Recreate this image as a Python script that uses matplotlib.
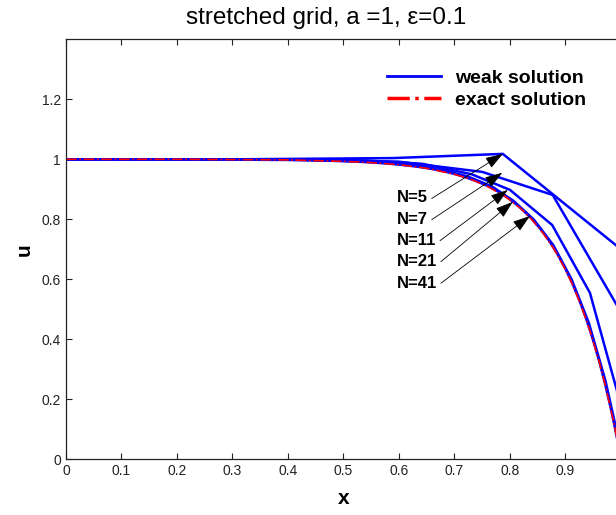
import matplotlib
matplotlib.use("Agg")
import matplotlib.pyplot as plt
from matplotlib.lines import Line2D

plt.rcParams["font.family"] = ["Liberation Sans", "DejaVu Sans"]

# node positions / values (stretched grids)
x_n5 = [0, 0.31, 0.589, 0.787, 1.0]
u_n5 = [1.0, 1.0, 1.004, 1.018, 0.70]

x_n7 = [0, 0.22, 0.42, 0.6, 0.75, 0.877, 1.0]
u_n7 = [1.0, 1.0, 0.999, 0.992, 0.958, 0.881, 0.49]

x_n11 = [0, 0.16, 0.302, 0.429, 0.542, 0.642, 0.731, 0.80, 0.876, 0.944, 1.0]
u_n11 = [1.0, 1.0, 1.0, 0.999, 0.996, 0.985, 0.95, 0.898, 0.781, 0.555, 0.18]

x_n21 = [0, 0.08, 0.155, 0.227, 0.295, 0.36, 0.421, 0.479, 0.534, 0.586, 0.635,
         0.681, 0.725, 0.767, 0.806, 0.843, 0.878, 0.911, 0.942, 0.972, 1.0]
u_n21 = [1.0, 1.0, 1.0, 1.0, 0.999, 0.999, 0.998, 0.996, 0.993, 0.987, 0.978,
         0.964, 0.942, 0.91, 0.862, 0.799, 0.714, 0.6, 0.455, 0.262, 0.03]

x_n41 = [0, 0.044, 0.087, 0.129, 0.17, 0.21, 0.249, 0.287, 0.324, 0.36, 0.395,
         0.429, 0.462, 0.494, 0.525, 0.555, 0.584, 0.612, 0.639, 0.665, 0.69,
         0.714, 0.737, 0.759, 0.78, 0.8, 0.819, 0.837, 0.854, 0.87, 0.885,
         0.899, 0.912, 0.925, 0.937, 0.949, 0.96, 0.971, 0.981, 0.991, 1.0]
u_n41 = [1.0, 1.0, 1.0, 1.0, 1.0, 1.0, 0.999, 0.999, 0.999, 0.998, 0.998,
         0.997, 0.996, 0.994, 0.992, 0.989, 0.985, 0.98, 0.974, 0.966, 0.956,
         0.944, 0.929, 0.912, 0.891, 0.867, 0.838, 0.806, 0.77, 0.73, 0.686,
         0.638, 0.588, 0.53, 0.47, 0.402, 0.332, 0.254, 0.175, 0.088, 0.002]

x_exact = [0, 0.1, 0.2, 0.3, 0.4, 0.5, 0.55, 0.6, 0.65, 0.7, 0.73, 0.76, 0.79,
           0.82, 0.84, 0.86, 0.88, 0.9, 0.915, 0.93, 0.945, 0.96, 0.97, 0.98,
           0.99, 1.0]
u_exact = [1.0, 1.0, 1.0, 0.999, 0.998, 0.993, 0.989, 0.982, 0.97, 0.95, 0.933,
           0.909, 0.878, 0.835, 0.798, 0.753, 0.699, 0.632, 0.573, 0.503, 0.423,
           0.33, 0.259, 0.181, 0.095, 0.0]

grid_labels = ["N=5", "N=7", "N=11", "N=21", "N=41"]
arrow_tips = [(0.787, 1.018), (0.786, 0.955), (0.796, 0.898), (0.805, 0.858), (0.836, 0.811)]

x_ticks = [0, 0.1, 0.2, 0.3, 0.4, 0.5, 0.6, 0.7, 0.8, 0.9]
x_ticklabels = ["0", "0.1", "0.2", "0.3", "0.4", "0.5", "0.6", "0.7", "0.8", "0.9"]
y_ticks = [0, 0.2, 0.4, 0.6, 0.8, 1.0, 1.2]
y_ticklabels = ["0", "0.2", "0.4", "0.6", "0.8", "1", "1.2"]

fig = plt.figure(figsize=(6.16, 5.15), dpi=100)
# axes run a little past the right edge, like the cropped original
ax = fig.add_axes([0.1071, 0.1082, 0.901, 0.8155])

blue = "#0000ff"
for xs, us in [(x_n5, u_n5), (x_n7, u_n7), (x_n11, u_n11), (x_n21, u_n21), (x_n41, u_n41)]:
    ax.plot(xs, us, color=blue, lw=1.8, solid_joinstyle="miter")
ax.plot(x_exact, u_exact, color="red", lw=1.2, ls="-.")

for i, (lab, tip) in enumerate(zip(grid_labels, arrow_tips)):
    ty = 0.871 - i * 0.071
    ax.annotate(lab, xy=tip, xytext=(0.596, ty), fontsize=12, fontweight="bold",
                ha="left", va="center",
                arrowprops=dict(arrowstyle="-|>,head_length=0.9,head_width=0.3",
                                color="black", lw=0.6, shrinkA=1, shrinkB=0,
                                relpos=(1.0, 0.3)))

ax.set_xlim(0, 1)
ax.set_ylim(0, 1.4)
ax.set_xticks(x_ticks)
ax.set_xticklabels(x_ticklabels)
ax.set_yticks(y_ticks)
ax.set_yticklabels(y_ticklabels)
ax.tick_params(direction="in", length=4, width=0.8, labelsize=10, top=True, right=False,
               colors="#222222")
for s in ax.spines.values():
    s.set_linewidth(0.9)
    s.set_color("#222222")

ax.set_xlabel("x", fontsize=15, fontweight="bold", labelpad=8)
ax.set_ylabel("u", fontsize=15, fontweight="bold", labelpad=6)
fig.text(326 / 616, 1 - 18 / 515, "stretched grid, a =1, ε=0.1", fontsize=17.5,
         ha="center", va="center")

handles = [Line2D([], [], color=blue, lw=2.0),
           Line2D([], [], color="red", lw=2.5, ls="-.")]
ax.legend(handles, ["weak solution", "exact solution"], loc="upper left",
          bbox_to_anchor=(0.578, 0.928), frameon=False, borderpad=0, borderaxespad=0,
          handlelength=2.8, handletextpad=0.7, labelspacing=0.2,
          prop={"size": 14, "weight": "bold"})

fig.savefig("out.png", dpi=100)
